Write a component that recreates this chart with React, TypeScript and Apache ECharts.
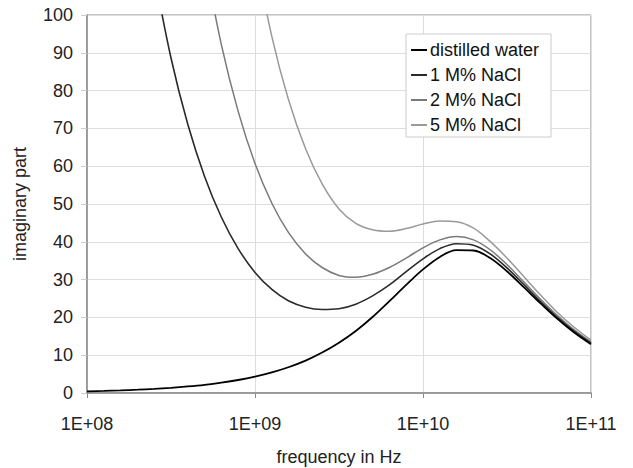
import React, { useEffect, useRef } from "react";
import * as echarts from "echarts";

// frequencies in Hz, ten per decade (shared by all curves)
const freqs = [
  1.0e8, 1.26e8, 1.58e8, 2.0e8, 2.51e8, 3.16e8, 3.98e8, 5.01e8, 6.31e8, 7.94e8,
  1.0e9, 1.26e9, 1.58e9, 2.0e9, 2.51e9, 3.16e9, 3.98e9, 5.01e9, 6.31e9, 7.94e9,
  1.0e10, 1.26e10, 1.58e10, 2.0e10, 2.51e10, 3.16e10, 3.98e10, 5.01e10, 6.31e10, 7.94e10,
  1.0e11,
];

// imaginary part (null = above the top of the chart)
const distilledWater = [
  0.43, 0.55, 0.69, 0.87, 1.09, 1.37, 1.73, 2.17, 2.74, 3.44,
  4.33, 5.45, 6.81, 8.57, 10.7, 13.3, 16.4, 20.1, 24.3, 28.6,
  32.7, 36.0, 37.8, 37.7, 35.7, 32.2, 28.0, 23.7, 19.6, 16.0,
  12.9,
];
const nacl1 = [
  null, null, null, null, 111.1, 88.7, 71.1, 57.3, 46.5, 38.2,
  31.9, 27.4, 24.4, 22.7, 22.1, 22.3, 23.5, 25.7, 28.6, 32.1,
  35.5, 38.2, 39.5, 39.1, 36.8, 33.1, 28.7, 24.2, 20.0, 16.3,
  13.2,
];
const nacl2 = [
  null, null, null, null, null, null, null, 114.8, 92.1, 74.5,
  60.7, 50.2, 42.5, 36.8, 33.2, 31.1, 30.6, 31.4, 33.2, 35.7,
  38.4, 40.5, 41.4, 40.5, 37.9, 34.0, 29.4, 24.8, 20.5, 16.7,
  13.5,
];
const nacl5 = [
  null, null, null, null, null, null, null, null, null, null,
  116.3, 94.3, 77.7, 64.6, 55.3, 48.7, 44.9, 43.2, 42.8, 43.5,
  44.7, 45.5, 45.3, 43.6, 40.1, 35.7, 30.8, 25.9, 21.3, 17.4,
  14.0,
];

const seriesNames = ["distilled water", "1 M% NaCl", "2 M% NaCl", "5 M% NaCl"];
const seriesValues = [distilledWater, nacl1, nacl2, nacl5];
const seriesColors = ["#000000", "#2a2a2a", "#7a7a7a", "#9a9a9a"];
const seriesWidths = [1.8, 1.6, 1.5, 1.5];

const FONT = "'Liberation Sans', Arial, sans-serif";

export default function App() {
  const ref = useRef<HTMLDivElement>(null);

  useEffect(() => {
    if (!ref.current) return;
    const chart = echarts.init(ref.current, undefined, { renderer: "svg" });
    const series = seriesNames.map((name, i) => ({
      name,
      type: "line",
      data: freqs
        .map((f, j) => [f, seriesValues[i][j]])
        .filter((p) => p[1] !== null),
      showSymbol: false,
      symbol: "none",
      smooth: 0.35,
      clip: true,
      lineStyle: { color: seriesColors[i], width: seriesWidths[i] },
      itemStyle: { color: seriesColors[i] },
      z: 10 - i,
    }));
    chart.setOption({
      animation: false,
      backgroundColor: "#ffffff",
      textStyle: { fontFamily: FONT },
      grid: {
        left: 87,
        right: 42,
        top: 15,
        bottom: 75,
        containLabel: false,
        outerBoundsMode: "none",
        show: true,
        borderColor: "#8a8a8a",
        borderWidth: 1,
        backgroundColor: "transparent",
      },
      legend: {
        show: true,
        orient: "vertical",
        left: 406,
        top: 34,
        data: seriesNames,
        icon: "rect",
        itemWidth: 16,
        itemHeight: 2,
        itemGap: 5,
        padding: [6, 12, 2, 5],
        backgroundColor: "#ffffff",
        borderColor: "#cccccc",
        borderWidth: 1,
        textStyle: {
          fontSize: 18,
          lineHeight: 20,
          color: "#111",
          fontFamily: FONT,
          padding: [0, 0, 0, -2],
        },
      },
      xAxis: {
        type: "log",
        logBase: 10,
        min: 1e8,
        max: 1e11,
        name: "frequency in Hz",
        nameLocation: "middle",
        nameGap: 55,
        nameTextStyle: { fontSize: 18, color: "#222", fontFamily: FONT },
        axisLine: { show: true, lineStyle: { color: "#8a8a8a", width: 1.5 } },
        axisTick: { show: true, inside: false, length: 5, lineStyle: { color: "#8a8a8a" } },
        minorTick: { show: false },
        splitLine: { show: true, lineStyle: { color: "#dddddd", width: 1 } },
        axisLabel: {
          fontSize: 18,
          color: "#222",
          margin: 22,
          fontFamily: FONT,
          formatter: (v: number) => {
            const e = Math.round(Math.log10(v));
            return "1E+" + String(e).padStart(2, "0");
          },
        },
      },
      yAxis: {
        type: "value",
        min: 0,
        max: 100,
        interval: 10,
        name: "imaginary part",
        nameLocation: "middle",
        nameGap: 58,
        nameRotate: 90,
        nameTextStyle: { fontSize: 18, color: "#222", fontFamily: FONT },
        axisLine: { show: true, lineStyle: { color: "#8a8a8a", width: 1.5 } },
        axisTick: { show: true, inside: false, length: 6, lineStyle: { color: "#cccccc" } },
        splitLine: { show: true, lineStyle: { color: "#dddddd", width: 1 } },
        axisLabel: { fontSize: 18, color: "#222", margin: 14, fontFamily: FONT },
      },
      series,
    });
    return () => chart.dispose();
  }, []);

  return (
    <div
      ref={ref}
      style={{ position: "fixed", left: 0, top: 0, width: 633, height: 468, background: "#fff" }}
    />
  );
}
